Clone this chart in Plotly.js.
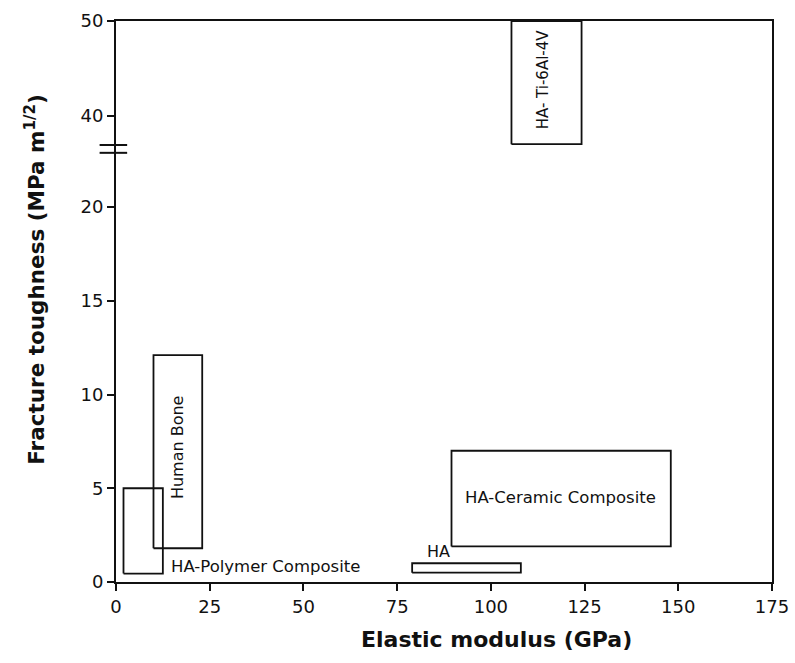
<!DOCTYPE html>
<html>
<head>
<meta charset="utf-8">
<script src="https://cdn.plot.ly/plotly-3.0.1.min.js"></script>
<style>html,body{margin:0;padding:0;background:#fff;}#chart{width:795px;height:663px;}</style>
</head>
<body>
<div id="chart"></div>
<script>
// ---- data ----
const materials = ["HA-Polymer Composite", "Human Bone", "HA", "HA-Ceramic Composite", "HA- Ti-6Al-4V"];
const modulusMin = [2, 10, 79, 89.5, 105.5];      // GPa
const modulusMax = [12.5, 23, 108, 148, 124.2];   // GPa
const toughMin = [0.45, 1.8, 0.5, 1.9, 37];       // MPa m^1/2
const toughMax = [5, 12.1, 1.0, 7, 50];           // MPa m^1/2
const xTicks = [0, 25, 50, 75, 100, 125, 150, 175];
const yTicksLow = [0, 5, 10, 15, 20];
const yTicksHigh = [40, 50];

// ---- label placement (layout only) ----
const labelPos = [
  {x: 14.2, y: 0.85, angle: 0, xanchor: 'left', size: 16.5},
  {x: 16.3, y: 7.2, angle: -90, xanchor: 'center', size: 16},
  {x: 86.0, y: 1.6, angle: 0, xanchor: 'center', size: 16},
  {x: 118.6, y: 4.5, angle: 0, xanchor: 'center', size: 16.5},
  {x: 113.8, y: 43.8, angle: -90, xanchor: 'center', size: 15}
];

const FONT = 'DejaVu Sans, Arial, sans-serif';
const traces = [];
const annotations = [];
materials.forEach((m, i) => {
  const upper = toughMin[i] > 30;
  traces.push({
    type: 'scatter', mode: 'lines',
    x: [modulusMin[i], modulusMax[i], modulusMax[i], modulusMin[i], modulusMin[i]],
    y: [toughMin[i], toughMin[i], toughMax[i], toughMax[i], toughMin[i]],
    xaxis: upper ? 'x2' : 'x', yaxis: upper ? 'y2' : 'y',
    line: {color: '#111', width: 1.8},
    hoverinfo: 'skip', showlegend: false, cliponaxis: false, name: m
  });
  const p = labelPos[i];
  annotations.push({
    text: m, x: p.x, y: p.y, xref: upper ? 'x2' : 'x', yref: upper ? 'y2' : 'y',
    showarrow: false, textangle: p.angle, xanchor: p.xanchor, yanchor: 'middle',
    font: {family: FONT, size: p.size, color: '#111'}
  });
});

annotations.push({
  text: '<b>Fracture toughness (MPa m<sup>1/2</sup>)</b>', xref: 'paper', yref: 'paper',
  x: -0.124, y: 0.54, showarrow: false, textangle: -90, xanchor: 'center', yanchor: 'middle',
  font: {family: FONT, size: 21.5, color: '#111'}
});
annotations.push({
  text: '<b>Elastic modulus (GPa)</b>', xref: 'paper', yref: 'paper',
  x: 0.58, y: -0.103, showarrow: false, xanchor: 'center', yanchor: 'middle',
  font: {family: FONT, size: 22, color: '#111'}
});

const axisCommon = {
  showgrid: false, zeroline: false, showline: true, linecolor: '#111', linewidth: 2,
  ticks: 'outside', ticklen: 7, tickwidth: 2, tickcolor: '#111',
  tickfont: {family: FONT, size: 18, color: '#111'}
};

const layout = {
  width: 795, height: 663,
  margin: {l: 116, r: 23, t: 21, b: 81},
  paper_bgcolor: '#fff', plot_bgcolor: '#fff',
  showlegend: false,
  xaxis: Object.assign({}, axisCommon, {
    range: [0, 175], tickvals: xTicks, anchor: 'y'
  }),
  xaxis2: {
    range: [0, 175], anchor: 'y2', overlaying: 'x', side: 'top',
    showline: true, linecolor: '#111', linewidth: 2, showticklabels: false,
    ticks: '', showgrid: false, zeroline: false
  },
  yaxis: Object.assign({}, axisCommon, {
    range: [0, 23.1], tickvals: yTicksLow, domain: [0, 0.772], anchor: 'x', mirror: true
  }),
  yaxis2: Object.assign({}, axisCommon, {
    range: [36.5, 50], tickvals: yTicksHigh, domain: [0.772, 1], anchor: 'x', mirror: true
  }),
  annotations: annotations,
  shapes: [
    {type: 'line', xref: 'paper', yref: 'paper', x0: -0.025, x1: 0.017, y0: 0.779, y1: 0.779,
     line: {color: '#111', width: 2}, layer: 'above'},
    {type: 'line', xref: 'paper', yref: 'paper', x0: -0.025, x1: 0.017, y0: 0.765, y1: 0.765,
     line: {color: '#111', width: 2}, layer: 'above'}
  ]
};

Plotly.newPlot('chart', traces, layout, {displayModeBar: false, staticPlot: true});
</script>
</body>
</html>
